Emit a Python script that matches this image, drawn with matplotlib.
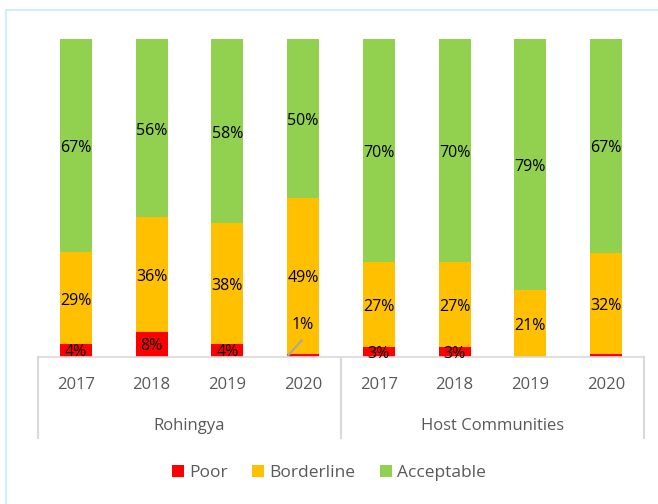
import numpy as np
import matplotlib.pyplot as plt
from matplotlib.patches import Rectangle

plt.rcParams['font.family'] = ['Open Sans', 'DejaVu Sans']

# data
years = ['2017', '2018', '2019', '2020', '2017', '2018', '2019', '2020']
groups = ['Rohingya', 'Host Communities']
poor = [4, 8, 4, 1, 3, 3, 0, 0.8]
borderline = [29, 36, 38, 49, 27, 27, 21, 32]
acceptable = [67, 56, 58, 50, 70, 70, 79, 67.2]
poor_labels = ['4%', '8%', '4%', '1%', '3%', '3%', '', '']

c_poor = '#FF0000'
c_border = '#FFC000'
c_acc = '#92D050'
txt = '#595959'
axis_col = '#D9D9D9'

W, H = 658, 504
fig = plt.figure(figsize=(W / 100, H / 100), dpi=100)

# light blue chart frame (cropped on right/bottom)
fig.patches.append(Rectangle((6 / W, -0.1), 1.2, 1 - 10 / H + 0.1, transform=fig.transFigure,
                             fill=False, edgecolor='#D3EEF6', linewidth=1.5))

ax = fig.add_axes([38 / W, 1 - 357 / H, 606 / W, 318 / H])
x = np.arange(len(years))
bw = 0.42
ax.bar(x, poor, bw, color=c_poor, label='Poor')
ax.bar(x, borderline, bw, bottom=poor, color=c_border, label='Borderline')
bot2 = np.array(poor) + np.array(borderline)
ax.bar(x, acceptable, bw, bottom=bot2, color=c_acc, label='Acceptable')

ax.set_xlim(-0.5, len(years) - 0.5)
ax.set_ylim(0, 100)
ax.axis('off')

# data labels (Excel sits them a touch below centre)
dy = -0.8
for i in range(len(years)):
    if poor_labels[i] and i != 3:
        ax.text(x[i], poor[i] / 2 - 0.4, poor_labels[i], ha='center', va='center', fontsize=11.5, color='black')
    ax.text(x[i], poor[i] + borderline[i] / 2 + dy, f'{borderline[i]}%', ha='center', va='center',
            fontsize=11.5, color='black')
    ax.text(x[i], bot2[i] + acceptable[i] / 2 + dy, f'{round(acceptable[i])}%', ha='center', va='center',
            fontsize=11.5, color='black')
# leader line label for the 1%
ax.plot([x[3] - 0.2, x[3] - 0.02], [0.4, 5.2], color='#A6A6A6', lw=1.5, clip_on=False)
ax.text(x[3], 10, poor_labels[3], ha='center', va='center', fontsize=11.5, color='black')

# multi-level category axis
ax.plot([-0.5, 7.5], [0, 0], color=axis_col, lw=1.2, clip_on=False)
ybot = -(438 - 357) / 318 * 100
for xv in [-0.5, 3.5, 7.5]:
    ax.plot([xv, xv], [0, ybot], color=axis_col, lw=1.5, clip_on=False)
for i, yr in enumerate(years):
    ax.text(x[i], -(385 - 357) / 318 * 100, yr, ha='center', va='center', fontsize=12, color=txt)
ax.text(1.5, -(426 - 357) / 318 * 100, groups[0], ha='center', va='center', fontsize=12, color=txt)
ax.text(5.5, -(426 - 357) / 318 * 100, groups[1], ha='center', va='center', fontsize=12, color=txt)

fig.legend(loc='center', bbox_to_anchor=(0.5, 1 - 473 / H), ncol=3, frameon=False,
           fontsize=12.5, labelcolor=txt, handlelength=0.7, handleheight=0.7,
           handletextpad=0.3, columnspacing=1.4)

fig.savefig('out.png', dpi=100)
